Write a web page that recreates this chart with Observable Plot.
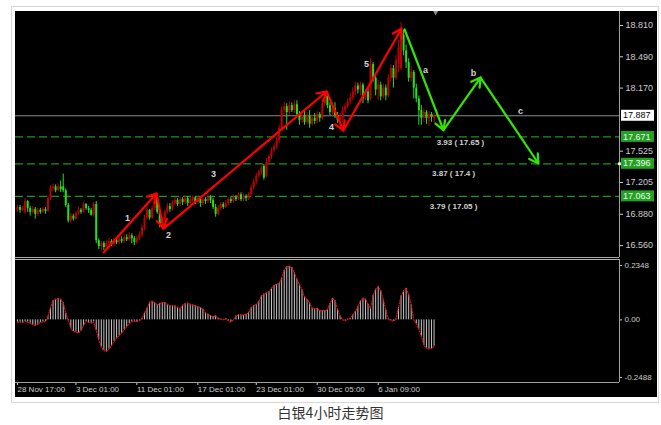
<!DOCTYPE html>
<html><head><meta charset="utf-8">
<script src="https://cdn.jsdelivr.net/npm/d3@7"></script>
<script src="https://cdn.jsdelivr.net/npm/@observablehq/plot@0.6"></script>
<style>
html,body{margin:0;padding:0;background:#fff;}
#wrap{position:relative;width:661px;height:425px;overflow:hidden;}
#frame{position:absolute;left:11px;top:6px;width:648px;height:397px;border:1px solid #d6d6d6;box-sizing:border-box;}
#black{position:absolute;left:15px;top:11px;width:642px;height:386px;background:#000;}
#main{position:absolute;left:15px;top:11px;}
#macd{position:absolute;left:15px;top:258px;}
#cap{position:absolute;left:0;top:403px;width:661px;text-align:center;font-family:"Noto Sans CJK SC";font-size:14px;color:#333;line-height:18px;}
</style></head>
<body>
<div id="wrap">
  <div id="frame"></div>
  <div id="black"></div>
  <div id="main"></div>
  <div id="macd"></div>
  <div id="cap">白银4小时走势图</div>
</div>
<script>
// ---- candles (4h bars, index 0..164) ----
const open = [16.92,16.95,16.92,16.90,17.01,16.94,16.90,16.93,16.88,16.92,
16.90,16.93,16.91,17.04,17.14,17.16,17.12,17.16,17.16,17.12,
16.97,16.81,16.86,16.83,16.89,16.92,16.90,16.98,16.94,16.92,
16.87,16.98,16.61,16.55,16.58,16.54,16.58,16.60,16.57,16.61,
16.59,16.62,16.60,16.64,16.62,16.66,16.63,16.59,16.63,16.66,
16.74,16.84,16.92,16.84,16.94,17.05,16.90,16.78,16.82,16.90,
16.96,16.93,16.99,17.02,16.98,17.03,17.00,17.04,16.99,17.02,
17.05,17.00,17.03,16.99,17.03,17.01,17.05,17.02,16.95,16.88,
16.94,16.98,16.95,16.99,17.03,17.01,17.05,17.03,17.08,17.03,
17.06,17.04,17.08,17.15,17.21,17.27,17.31,17.37,17.27,17.41,
17.47,17.53,17.57,17.63,17.76,17.94,17.98,17.92,17.99,17.94,
18.00,17.90,17.84,17.89,17.82,17.88,17.80,17.86,17.83,17.90,
17.86,18.01,18.09,17.99,17.92,17.96,17.89,17.84,17.86,17.94,
17.98,18.03,18.07,18.13,18.19,18.15,18.20,18.06,18.13,18.06,
18.41,18.27,18.15,18.20,18.08,18.17,18.09,18.27,18.37,18.27,
18.43,18.37,18.71,18.55,18.43,18.27,18.33,18.17,18.06,17.94,
17.86,17.92,17.86,17.90,17.86];
const high = [16.97,16.97,16.96,17.04,17.02,16.96,16.96,16.95,16.94,16.94,
16.95,16.95,17.06,17.17,17.19,17.18,17.19,17.22,17.29,17.14,
16.99,16.89,16.88,16.91,16.95,16.94,17.00,16.99,16.96,16.94,
17.00,17.01,16.63,16.60,16.60,16.61,16.63,16.62,16.64,16.64,
16.65,16.65,16.67,16.67,16.69,16.68,16.65,16.66,16.70,16.77,
16.87,16.95,16.93,16.97,17.09,17.07,16.92,16.85,16.92,16.99,
16.99,17.02,17.05,17.04,17.06,17.05,17.06,17.06,17.05,17.07,
17.06,17.06,17.05,17.06,17.05,17.08,17.07,17.04,16.98,16.97,
17.00,17.00,17.02,17.05,17.06,17.08,17.07,17.10,17.10,17.09,
17.08,17.10,17.18,17.24,17.30,17.33,17.38,17.39,17.45,17.49,
17.56,17.60,17.67,17.79,17.98,18.02,18.01,18.03,18.02,18.04,
18.04,17.93,17.92,17.93,17.92,17.94,17.89,17.91,17.93,17.92,
18.04,18.13,18.12,18.02,18.00,18.02,17.92,17.91,17.98,18.01,
18.06,18.11,18.17,18.23,18.22,18.23,18.22,18.15,18.17,18.47,
18.43,18.30,18.25,18.23,18.21,18.20,18.31,18.41,18.40,18.50,
18.66,18.84,18.76,18.61,18.47,18.39,18.35,18.21,18.09,17.99,
17.96,17.94,17.93,17.92,17.91];
const low = [16.90,16.89,16.91,16.88,16.90,16.86,16.88,16.83,16.86,16.88,
16.89,16.88,16.90,17.02,17.11,17.10,17.11,17.10,17.10,16.95,
16.79,16.79,16.81,16.82,16.87,16.88,16.89,16.92,16.89,16.86,
16.85,16.58,16.52,16.51,16.51,16.52,16.55,16.55,16.55,16.57,
16.57,16.58,16.58,16.60,16.60,16.58,16.56,16.57,16.61,16.64,
16.71,16.82,16.82,16.83,16.92,16.88,16.74,16.72,16.79,16.88,
16.90,16.91,16.97,16.96,16.96,16.97,16.98,16.96,16.97,17.00,
16.98,16.98,16.95,16.97,16.98,16.99,16.99,16.93,16.85,16.86,
16.92,16.93,16.94,16.97,16.99,16.99,17.01,17.02,17.01,17.01,
17.01,17.02,17.06,17.13,17.18,17.25,17.28,17.23,17.25,17.38,
17.44,17.51,17.54,17.60,17.74,17.90,17.74,17.89,17.92,17.91,
17.88,17.79,17.81,17.79,17.80,17.76,17.78,17.80,17.81,17.82,
17.84,17.98,17.96,17.89,17.88,17.86,17.81,17.81,17.82,17.91,
17.96,18.00,18.04,18.09,18.11,18.09,18.01,18.04,18.01,18.04,
18.23,18.09,18.04,18.04,18.06,18.04,18.07,18.23,18.17,18.25,
18.33,18.35,18.50,18.37,18.23,18.23,18.06,18.02,17.79,17.79,
17.82,17.80,17.78,17.82,17.81];
const close = [16.95,16.92,16.94,17.01,16.94,16.90,16.93,16.88,16.92,16.90,
16.93,16.91,17.04,17.14,17.16,17.12,17.16,17.13,17.12,16.97,
16.81,16.86,16.83,16.89,16.92,16.90,16.98,16.94,16.92,16.87,
16.98,16.61,16.55,16.58,16.54,16.58,16.60,16.57,16.61,16.59,
16.62,16.60,16.64,16.62,16.66,16.63,16.59,16.63,16.66,16.74,
16.84,16.92,16.84,16.94,17.05,16.90,16.78,16.82,16.90,16.96,
16.93,16.99,17.02,16.98,17.03,17.00,17.04,16.99,17.02,17.05,
17.00,17.03,16.99,17.03,17.01,17.05,17.02,16.95,16.88,16.94,
16.98,16.95,16.99,17.03,17.01,17.05,17.03,17.08,17.03,17.06,
17.04,17.08,17.15,17.21,17.27,17.31,17.35,17.25,17.41,17.47,
17.53,17.57,17.63,17.76,17.94,17.98,17.92,17.99,17.94,18.00,
17.90,17.84,17.89,17.82,17.88,17.80,17.86,17.83,17.90,17.86,
18.01,18.09,17.99,17.92,17.96,17.89,17.84,17.88,17.94,17.98,
18.03,18.07,18.13,18.19,18.15,18.20,18.06,18.13,18.04,18.41,
18.27,18.15,18.20,18.08,18.17,18.09,18.27,18.37,18.27,18.45,
18.58,18.71,18.55,18.43,18.27,18.33,18.17,18.06,17.94,17.86,
17.92,17.86,17.90,17.87,17.887];

// ---- MACD histogram ----
const macd = [-0.010,-0.010,-0.011,-0.007,-0.010,-0.014,-0.021,-0.024,-0.019,-0.011,
-0.009,-0.007,0.014,0.054,0.083,0.089,0.092,0.089,0.074,0.029,
-0.003,-0.036,-0.050,-0.053,-0.057,-0.046,-0.024,-0.007,-0.011,-0.014,
-0.009,-0.046,-0.086,-0.117,-0.132,-0.136,-0.126,-0.112,-0.093,-0.079,
-0.069,-0.057,-0.043,-0.029,-0.017,-0.007,-0.006,-0.007,-0.003,0.007,
0.029,0.050,0.076,0.080,0.074,0.064,0.071,0.074,0.074,0.067,
0.061,0.061,0.060,0.054,0.047,0.063,0.069,0.072,0.067,0.064,
0.060,0.057,0.053,0.046,0.031,0.024,0.017,0.014,0.017,0.007,
0.003,0.000,0.006,-0.003,-0.009,0.000,0.017,0.021,0.021,0.020,
0.024,0.031,0.053,0.061,0.067,0.079,0.103,0.112,0.116,0.122,
0.136,0.149,0.153,0.157,0.179,0.214,0.229,0.230,0.226,0.203,
0.174,0.154,0.129,0.100,0.086,0.074,0.050,0.047,0.050,0.039,
0.040,0.040,0.043,0.071,0.093,0.083,0.046,0.017,0.000,-0.004,
0.003,0.007,0.021,0.036,0.057,0.083,0.093,0.089,0.067,0.050,
0.107,0.132,0.143,0.126,0.086,0.043,0.003,-0.003,-0.006,0.004,
0.054,0.103,0.126,0.136,0.110,0.064,0.000,-0.017,-0.039,-0.071,
-0.111,-0.122,-0.126,-0.124,-0.114];

// ---- axes ----
const priceTicks = [18.81, 18.49, 18.17, 17.525, 17.205, 16.88, 16.56];
const macdTicks = [0.2348, 0, -0.2488];
const macdTickLabels = ["0.2348", "0.00", "-0.2488"];
const timeTickIdx = [0, 23, 47, 71, 94, 118, 142];
const timeLabels = ["28 Nov 17:00", "3 Dec 01:00", "11 Dec 01:00", "17 Dec 01:00", "23 Dec 01:00", "30 Dec 05:00", "6 Jan 09:00"];

// ---- horizontal levels ----
const lastPrice = 17.887;
const levelPrices = [17.671, 17.396, 17.063];
const levelNotes = ["3.93 ( 17.65 )", "3.87 ( 17.4 )", "3.79 ( 17.05 )"];
const levelNoteIdx = [174.4, 171.7, 171.7];
const levelNotePrice = [17.614, 17.297, 16.96];

// ---- wave annotations ----
const redWaveIdx = [33.9, 54.7, 57.5, 121.7, 128.3, 151.2];
const redWavePrice = [16.489, 17.092, 16.734, 18.135, 17.736, 18.779];
const greenWaveIdx = [152.4, 167.7, 182.3, 205.1];
const greenWavePrice = [18.769, 17.74, 18.278, 17.399];
const waveLabels = ["1", "2", "3", "4", "5", "a", "b", "c"];
const waveLabelIdx = [43.3, 59.4, 77.2, 123.6, 137.4, 160.6, 179.5, 198.0];
const waveLabelPrice = [16.837, 16.663, 17.287, 17.767, 18.411, 18.35, 18.319, 17.93];

// ---- build ----
const RED = "#c00000", GREEN = "#22e022";
const bars = close.map((c, i) => ({i, o: open[i], h: high[i], l: low[i], c, up: c >= open[i]}));
const xDomain = [-0.787, 237.0];
const yDomain = [16.438, 18.953];
const segs = (xs, ys) => xs.slice(1).map((x, k) => ({x1: xs[k], y1: ys[k], x2: x, y2: ys[k + 1]}));
const redSegs = segs(redWaveIdx, redWavePrice);
const greenSegs = segs(greenWaveIdx, greenWavePrice);
const labelsData = waveLabels.map((t, k) => ({t, x: waveLabelIdx[k], y: waveLabelPrice[k]}));
const notesData = levelNotes.map((t, k) => ({t, x: levelNoteIdx[k], y: levelNotePrice[k]}));

const boxes = [
  {v: lastPrice, label: "17.887", bg: "#ffffff", fg: "#000000"},
  ...levelPrices.map(v => ({v, label: v.toFixed(3), bg: "#24a024", fg: "#eaffea"}))
];
function boxMark(...args) {
  const scales = args.find(a => a && typeof a.y === "function" && typeof a.x === "function");
  const g = d3.create("svg:g");
  const x0 = scales.x(xDomain[1]) + 2;
  for (const b of boxes) {
    const y = scales.y(b.v);
    g.append("rect").attr("x", x0).attr("y", y - 5.5).attr("width", 33).attr("height", 11).attr("fill", b.bg);
    g.append("text").attr("x", x0 + 2).attr("y", y).attr("dy", "0.35em")
      .attr("text-anchor", "start")
      .attr("fill", b.fg).attr("font-size", 9).attr("font-family", "Liberation Sans").text(b.label);
  }
  return g.node();
}

const main = Plot.plot({
  width: 642, height: 247,
  marginLeft: 0, marginRight: 38, marginTop: 0, marginBottom: 1,
  style: {background: "#000", color: "#cfcfcf", fontFamily: "Liberation Sans", fontSize: "9px"},
  x: {domain: xDomain, axis: null, label: null},
  y: {domain: yDomain, axis: null, label: null},
  marks: [
    Plot.ruleY([lastPrice], {stroke: "#8c8c8c", strokeWidth: 1}),
    Plot.ruleY(levelPrices, {stroke: "#1c961c", strokeWidth: 1.3, strokeDasharray: "8,4"}),
    Plot.ruleX(bars, {x: "i", y1: "l", y2: "h", stroke: d => d.up ? RED : GREEN, strokeWidth: 1}),
    Plot.ruleX(bars, {x: "i", y1: "o", y2: "c", stroke: d => d.up ? RED : GREEN, strokeWidth: 2}),
    Plot.arrow(redSegs, {x1: "x1", y1: "y1", x2: "x2", y2: "y2", stroke: "#ff0000", strokeWidth: 2.2, headLength: 7}),
    Plot.arrow(greenSegs, {x1: "x1", y1: "y1", x2: "x2", y2: "y2", stroke: "#33e600", strokeWidth: 2.2, headLength: 7}),
    Plot.text(labelsData, {x: "x", y: "y", text: "t", fill: "#d4d4d4", fontWeight: "bold", fontSize: 9}),
    Plot.text(notesData, {x: "x", y: "y", text: "t", fill: "#d4d4d4", fontWeight: "bold", fontSize: 8}),
    Plot.axisY(priceTicks, {anchor: "right", label: null, tickSize: 3, tickPadding: 3, tickFormat: d3.format(".3f"), fontSize: 9}),
    Plot.ruleX([xDomain[1]], {stroke: "#a0a0a0"}),
    Plot.ruleY([yDomain[0]], {stroke: "#a8a8a8"}),
    Plot.dot([lastPrice], {x: () => 164.6, y: () => yDomain[1], symbol: "triangle", r: 2.5, fill: "#8a8a8a", rotate: 180}),
    Plot.dot([levelPrices[1]], {x: () => xDomain[1], y: d => d, symbol: "square", r: 1.6, fill: "#ffffff"}),
    boxMark
  ]
});
document.getElementById("main").appendChild(main);

const macdData = macd.map((v, i) => ({i, v}));
const macdDomain = [-0.2704, 0.2607];
const timeMap = new Map(timeTickIdx.map((t, k) => [t, timeLabels[k]]));
const macdMap = new Map(macdTicks.map((t, k) => [t, macdTickLabels[k]]));
const sub = Plot.plot({
  width: 642, height: 139,
  marginLeft: 0, marginRight: 38, marginTop: 1, marginBottom: 15,
  style: {background: "#000", color: "#cfcfcf", fontFamily: "Liberation Sans", fontSize: "8px"},
  x: {domain: xDomain, axis: null, label: null},
  y: {domain: macdDomain, axis: null, label: null},
  marks: [
    Plot.ruleX(macdData, {x: "i", y1: 0, y2: "v", stroke: "#c4c4c4", strokeWidth: 1}),
    Plot.line(macdData, {x: "i", y: "v", stroke: "#e01515", strokeWidth: 1.2, strokeDasharray: "1,1.6"}),
    Plot.axisY(macdTicks, {anchor: "right", label: null, tickSize: 2, tickPadding: 3, tickFormat: d => macdMap.get(d), fontSize: 8}),
    Plot.axisX(timeTickIdx, {anchor: "bottom", label: null, tickSize: 3, tickPadding: 1, tickFormat: d => timeMap.get(d), textAnchor: "start", fontSize: 8}),
    Plot.ruleX([xDomain[1]], {stroke: "#a0a0a0"}),
    Plot.ruleY([macdDomain[1]], {stroke: "#b0b0b0"}),
    Plot.ruleY([macdDomain[0]], {stroke: "#a0a0a0"})
  ]
});
document.getElementById("macd").appendChild(sub);
</script>
</body></html>
